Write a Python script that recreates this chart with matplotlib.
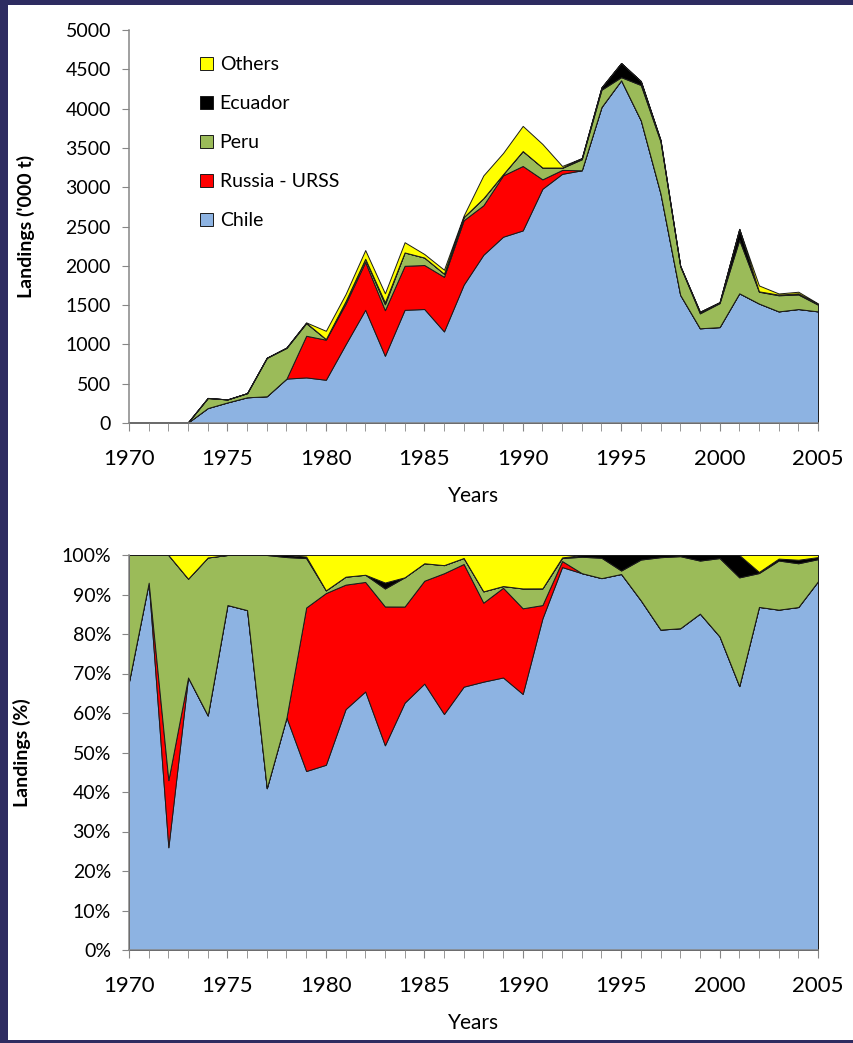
import numpy as np
import matplotlib
matplotlib.use("Agg")
import matplotlib.pyplot as plt
from matplotlib.patches import Rectangle

plt.rcParams['font.family'] = ['Lato', 'DejaVu Sans']

# Landings ('000 t) per year and country
years = np.arange(1970, 2006)
chile = [6.8, 9.3, 2.6, 6.9, 190, 262, 327, 340, 565, 580, 550, 1000, 1440, 855, 1440, 1450, 1165, 1760,
         2140, 2370, 2450, 2980, 3170, 3215, 4020, 4360, 3850, 2920, 1630, 1205, 1220, 1650, 1520, 1420, 1450, 1420]
russia = [0, 0, 1.7, 0, 0, 0, 0, 0, 0, 530, 510, 517, 610, 580, 560, 560, 695, 820,
          630, 780, 820, 120, 50, 0, 0, 0, 0, 0, 0, 0, 0, 0, 0, 0, 0, 0]
peru = [3.2, 0.7, 5.7, 2.5, 128, 38, 53, 490, 390, 160, 8, 33, 40, 75, 170, 95, 40, 40,
        90, 15, 190, 150, 25, 140, 220, 40, 450, 660, 365, 190, 305, 680, 150, 205, 185, 85]
ecuador = [0, 0, 0, 0, 0, 0, 0, 0, 5, 5, 0, 0, 0, 25, 0, 0, 0, 0,
           0, 0, 0, 0, 5, 15, 30, 180, 50, 20, 6, 20, 12, 140, 5, 8, 15, 8]
others = [0, 0, 0, 0.6, 2, 0, 0, 0, 0, 5, 105, 90, 110, 115, 130, 45, 50, 20,
          290, 270, 320, 300, 20, 0, 0, 0, 0, 0, 0, 0, 0, 0, 75, 15, 20, 8]

names = ['Chile', 'Russia - URSS', 'Peru', 'Ecuador', 'Others']
colors = ['#8DB3E2', '#FF0000', '#9BBB59', '#000000', '#FFFF00']

data = np.array([chile, russia, peru, ecuador, others], dtype=float)
pct = data / data.sum(axis=0) * 100

fig = plt.figure(figsize=(8.54, 10.43), dpi=100, facecolor='#2E2C61')
# white slide area
fig.patches.append(Rectangle((8 / 854, 3 / 1043), 1 - 8 / 854, 1 - 8 / 1043,
                             transform=fig.transFigure, facecolor='white', edgecolor='none', zorder=-10))

ax1 = fig.add_axes([129 / 854, 1 - 423 / 1043, 689 / 854, 393 / 1043])
ax2 = fig.add_axes([129 / 854, 1 - 950 / 1043, 689 / 854, 395 / 1043])

for ax, vals in [(ax1, data), (ax2, pct)]:
    ax.set_facecolor('none')
    ax.stackplot(years, vals, colors=colors, labels=names, edgecolor='#1a1a1a', linewidth=0.7)
    ax.set_xlim(1970, 2005)
    ax.set_xticks(np.arange(1970, 2006, 5))
    ax.set_xticks(years, minor=True)
    ax.tick_params(axis='x', which='both', length=6, color='#868686', labelsize=16, pad=13)
    ax.tick_params(axis='y', length=5, color='#868686', labelsize=14, pad=8)
    for s in ['top', 'right']:
        ax.spines[s].set_visible(False)
    for s in ['left', 'bottom']:
        ax.spines[s].set_color('#868686')
        ax.spines[s].set_linewidth(1.1)
        ax.spines[s].set_zorder(3)
    ax.set_xlabel('Years', fontsize=15, labelpad=12)

ax1.set_ylim(0, 5000)
ax1.set_yticks(np.arange(0, 5001, 500))
ax1.set_ylabel("Landings ('000 t)", fontsize=14, fontweight='bold', labelpad=22)
h, l = ax1.get_legend_handles_labels()
ax1.legend(h[::-1], l[::-1], loc='upper left', bbox_to_anchor=(0.078, 0.978), frameon=False,
           fontsize=14, labelspacing=1.13, handlelength=0.65, handleheight=0.65, handletextpad=0.35)

ax2.set_ylim(0, 100)
ax2.set_yticks(np.arange(0, 101, 10))
ax2.set_yticklabels([f'{v}%' for v in range(0, 101, 10)])
ax2.set_ylabel('Landings (%)', fontsize=14, fontweight='bold', labelpad=22)

fig.savefig('out.png', dpi=100, facecolor=fig.get_facecolor())
